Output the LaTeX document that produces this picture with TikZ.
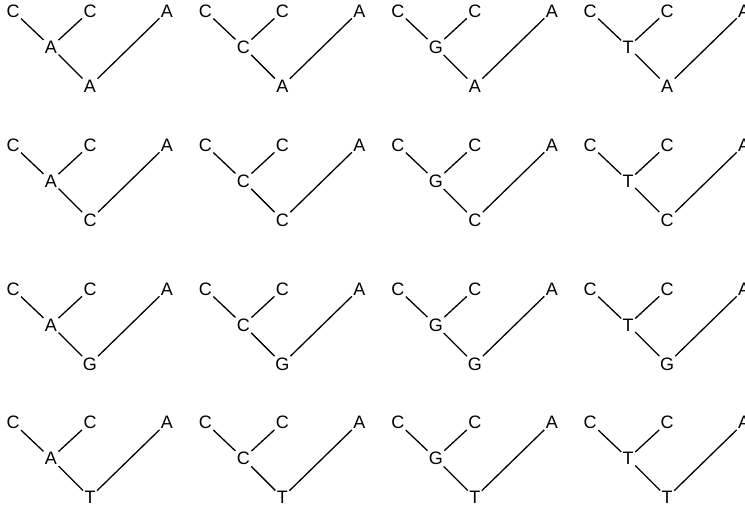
\documentclass[tikz,border=0pt]{standalone}
\usepackage{fontspec}
\setmainfont{Liberation Sans}
\tikzset{
  base/.style={inner sep=1.5pt, outer sep=0pt, font=\fontsize{18}{21}\selectfont},
  edge/.style={line width=1.3pt}
}
\begin{document}
\begin{tikzpicture}[x=1pt,y=-1pt]
\useasboundingbox (0,0) rectangle (745,512);
\clip (0,0) rectangle (745,512);
% rows: root state, columns: inner state
\foreach \r/\ry/\rt in {0/11/A,1/145/C,2/289/G,3/422.5/T}{
  \foreach \c/\it in {0/A,1/C,2/G,3/T}{
    \begin{scope}[shift={({13+192.4*\c},\ry)}]
      \node[base] (t\r\c-l1) at (0,0) {C};
      \node[base] (t\r\c-l2) at (77,0) {C};
      \node[base] (t\r\c-l3) at (154,0) {A};
      \node[base] (t\r\c-in) at (38,36) {\it};
      \node[base] (t\r\c-rt) at (77,75) {\rt};
      \draw[edge] (t\r\c-l1) -- (t\r\c-in);
      \draw[edge] (t\r\c-in) -- (t\r\c-l2);
      \draw[edge] (t\r\c-in) -- (t\r\c-rt);
      \draw[edge] (t\r\c-rt) -- (t\r\c-l3);
    \end{scope}
  }
}
\end{tikzpicture}
\end{document}
